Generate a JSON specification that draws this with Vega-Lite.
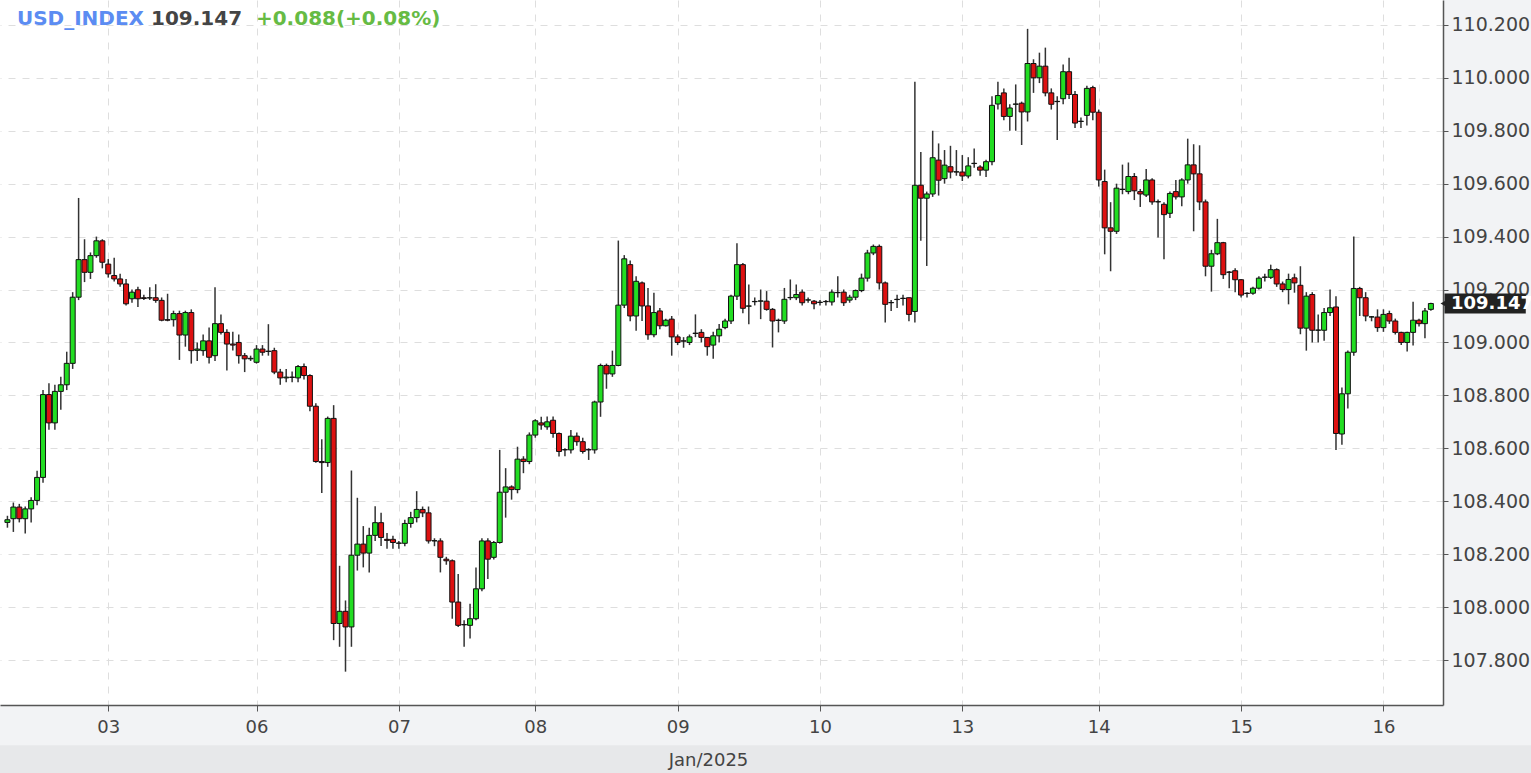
{
"$schema": "https://vega.github.io/schema/vega-lite/v6.json",
"width": 1443, "height": 705,
"autosize": {"type": "none"},
"padding": {"left": 0, "top": 0, "right": 88, "bottom": 68},
"background": "#f2f3f5",
"config": {"view": {"fill": "white", "stroke": null}, "font": "DejaVu Sans"},
"datasets": {"candles": [
{"t":1,"o":108.320,"c":108.330,"h":108.345,"l":108.300},
{"t":2,"o":108.334,"c":108.378,"h":108.395,"l":108.284},
{"t":3,"o":108.378,"c":108.334,"h":108.390,"l":108.320},
{"t":4,"o":108.334,"c":108.371,"h":108.380,"l":108.278},
{"t":5,"o":108.371,"c":108.403,"h":108.415,"l":108.320},
{"t":6,"o":108.403,"c":108.490,"h":108.515,"l":108.385},
{"t":7,"o":108.490,"c":108.803,"h":108.820,"l":108.470},
{"t":8,"o":108.803,"c":108.696,"h":108.846,"l":108.670},
{"t":9,"o":108.696,"c":108.815,"h":108.840,"l":108.670},
{"t":10,"o":108.815,"c":108.840,"h":108.870,"l":108.746},
{"t":11,"o":108.840,"c":108.921,"h":108.965,"l":108.820},
{"t":12,"o":108.921,"c":109.171,"h":109.190,"l":108.900},
{"t":13,"o":109.171,"c":109.313,"h":109.546,"l":109.160},
{"t":14,"o":109.313,"c":109.265,"h":109.390,"l":109.228},
{"t":15,"o":109.265,"c":109.328,"h":109.340,"l":109.240},
{"t":16,"o":109.328,"c":109.384,"h":109.400,"l":109.320},
{"t":17,"o":109.384,"c":109.303,"h":109.390,"l":109.280},
{"t":18,"o":109.296,"c":109.259,"h":109.315,"l":109.245},
{"t":19,"o":109.253,"c":109.240,"h":109.320,"l":109.230},
{"t":20,"o":109.240,"c":109.221,"h":109.260,"l":109.210},
{"t":21,"o":109.221,"c":109.146,"h":109.240,"l":109.140},
{"t":22,"o":109.165,"c":109.190,"h":109.200,"l":109.150},
{"t":23,"o":109.199,"c":109.165,"h":109.210,"l":109.134},
{"t":24,"o":109.169,"c":109.166,"h":109.180,"l":109.160},
{"t":25,"o":109.168,"c":109.169,"h":109.209,"l":109.160},
{"t":26,"o":109.169,"c":109.159,"h":109.220,"l":109.150},
{"t":27,"o":109.159,"c":109.084,"h":109.170,"l":109.080},
{"t":28,"o":109.086,"c":109.084,"h":109.184,"l":109.080},
{"t":29,"o":109.086,"c":109.109,"h":109.120,"l":109.060},
{"t":30,"o":109.109,"c":109.028,"h":109.120,"l":108.934},
{"t":31,"o":109.028,"c":109.113,"h":109.120,"l":108.984},
{"t":32,"o":109.113,"c":108.969,"h":109.125,"l":108.920},
{"t":33,"o":108.970,"c":108.975,"h":109.000,"l":108.930},
{"t":34,"o":108.969,"c":109.006,"h":109.030,"l":108.950},
{"t":35,"o":109.006,"c":108.944,"h":109.056,"l":108.920},
{"t":36,"o":108.950,"c":109.071,"h":109.209,"l":108.930},
{"t":37,"o":109.071,"c":109.038,"h":109.106,"l":109.030},
{"t":38,"o":109.038,"c":108.994,"h":109.050,"l":108.894},
{"t":39,"o":108.994,"c":108.990,"h":109.040,"l":108.970},
{"t":40,"o":109.000,"c":108.950,"h":109.030,"l":108.920},
{"t":41,"o":108.950,"c":108.938,"h":108.960,"l":108.888},
{"t":42,"o":108.938,"c":108.940,"h":108.950,"l":108.930},
{"t":43,"o":108.925,"c":108.975,"h":108.990,"l":108.920},
{"t":44,"o":108.975,"c":108.963,"h":108.990,"l":108.950},
{"t":45,"o":108.966,"c":108.967,"h":109.069,"l":108.950},
{"t":46,"o":108.969,"c":108.888,"h":108.980,"l":108.880},
{"t":47,"o":108.888,"c":108.866,"h":108.900,"l":108.840},
{"t":48,"o":108.866,"c":108.869,"h":108.900,"l":108.850},
{"t":49,"o":108.869,"c":108.868,"h":108.890,"l":108.850},
{"t":50,"o":108.866,"c":108.909,"h":108.915,"l":108.850},
{"t":51,"o":108.909,"c":108.875,"h":108.920,"l":108.860},
{"t":52,"o":108.875,"c":108.759,"h":108.880,"l":108.740},
{"t":53,"o":108.759,"c":108.550,"h":108.770,"l":108.545},
{"t":54,"o":108.550,"c":108.546,"h":108.634,"l":108.431},
{"t":55,"o":108.546,"c":108.713,"h":108.720,"l":108.530},
{"t":56,"o":108.713,"c":107.938,"h":108.763,"l":107.875},
{"t":57,"o":107.938,"c":107.984,"h":108.156,"l":107.850},
{"t":58,"o":107.984,"c":107.925,"h":108.025,"l":107.756},
{"t":59,"o":107.925,"c":108.196,"h":108.516,"l":107.850},
{"t":60,"o":108.196,"c":108.238,"h":108.413,"l":108.138},
{"t":61,"o":108.238,"c":108.204,"h":108.306,"l":108.150},
{"t":62,"o":108.204,"c":108.271,"h":108.300,"l":108.131},
{"t":63,"o":108.271,"c":108.319,"h":108.381,"l":108.250},
{"t":64,"o":108.319,"c":108.263,"h":108.356,"l":108.231},
{"t":65,"o":108.256,"c":108.252,"h":108.280,"l":108.220},
{"t":66,"o":108.256,"c":108.244,"h":108.270,"l":108.220},
{"t":67,"o":108.241,"c":108.242,"h":108.250,"l":108.220},
{"t":68,"o":108.241,"c":108.316,"h":108.330,"l":108.230},
{"t":69,"o":108.316,"c":108.338,"h":108.360,"l":108.300},
{"t":70,"o":108.338,"c":108.369,"h":108.438,"l":108.320},
{"t":71,"o":108.369,"c":108.356,"h":108.380,"l":108.340},
{"t":72,"o":108.356,"c":108.250,"h":108.380,"l":108.240},
{"t":73,"o":108.250,"c":108.251,"h":108.260,"l":108.230},
{"t":74,"o":108.250,"c":108.188,"h":108.260,"l":108.131},
{"t":75,"o":108.181,"c":108.175,"h":108.190,"l":108.160},
{"t":76,"o":108.175,"c":108.019,"h":108.180,"l":107.956},
{"t":77,"o":108.019,"c":107.931,"h":108.125,"l":107.925},
{"t":78,"o":107.934,"c":107.933,"h":107.950,"l":107.850},
{"t":79,"o":107.931,"c":107.956,"h":108.013,"l":107.881},
{"t":80,"o":107.956,"c":108.069,"h":108.150,"l":107.950},
{"t":81,"o":108.069,"c":108.250,"h":108.260,"l":108.060},
{"t":82,"o":108.250,"c":108.181,"h":108.260,"l":108.106},
{"t":83,"o":108.188,"c":108.244,"h":108.250,"l":108.180},
{"t":84,"o":108.244,"c":108.434,"h":108.594,"l":108.240},
{"t":85,"o":108.434,"c":108.454,"h":108.525,"l":108.338},
{"t":86,"o":108.454,"c":108.444,"h":108.460,"l":108.406},
{"t":87,"o":108.444,"c":108.559,"h":108.606,"l":108.430},
{"t":88,"o":108.559,"c":108.550,"h":108.570,"l":108.506},
{"t":89,"o":108.550,"c":108.650,"h":108.660,"l":108.540},
{"t":90,"o":108.650,"c":108.704,"h":108.710,"l":108.640},
{"t":91,"o":108.696,"c":108.688,"h":108.719,"l":108.670},
{"t":92,"o":108.681,"c":108.700,"h":108.720,"l":108.670},
{"t":93,"o":108.706,"c":108.656,"h":108.720,"l":108.640},
{"t":94,"o":108.656,"c":108.588,"h":108.660,"l":108.569},
{"t":95,"o":108.594,"c":108.595,"h":108.600,"l":108.570},
{"t":96,"o":108.594,"c":108.646,"h":108.669,"l":108.580},
{"t":97,"o":108.646,"c":108.625,"h":108.660,"l":108.610},
{"t":98,"o":108.625,"c":108.588,"h":108.640,"l":108.580},
{"t":99,"o":108.594,"c":108.595,"h":108.600,"l":108.556},
{"t":100,"o":108.594,"c":108.775,"h":108.780,"l":108.580},
{"t":101,"o":108.775,"c":108.913,"h":108.920,"l":108.719},
{"t":102,"o":108.913,"c":108.881,"h":108.920,"l":108.825},
{"t":103,"o":108.881,"c":108.913,"h":108.969,"l":108.870},
{"t":104,"o":108.913,"c":109.141,"h":109.385,"l":108.910},
{"t":105,"o":109.141,"c":109.316,"h":109.330,"l":109.130},
{"t":106,"o":109.294,"c":109.100,"h":109.310,"l":109.080},
{"t":107,"o":109.100,"c":109.231,"h":109.250,"l":109.044},
{"t":108,"o":109.225,"c":109.138,"h":109.230,"l":109.081},
{"t":109,"o":109.138,"c":109.029,"h":109.206,"l":109.010},
{"t":110,"o":109.029,"c":109.113,"h":109.188,"l":109.020},
{"t":111,"o":109.119,"c":109.063,"h":109.130,"l":109.050},
{"t":112,"o":109.063,"c":109.084,"h":109.090,"l":109.060},
{"t":113,"o":109.088,"c":109.021,"h":109.100,"l":108.950},
{"t":114,"o":109.021,"c":109.000,"h":109.030,"l":108.990},
{"t":115,"o":109.006,"c":109.005,"h":109.020,"l":108.980},
{"t":116,"o":109.000,"c":109.021,"h":109.030,"l":108.990},
{"t":117,"o":109.034,"c":109.035,"h":109.106,"l":109.020},
{"t":118,"o":109.038,"c":109.019,"h":109.050,"l":109.000},
{"t":119,"o":109.019,"c":108.984,"h":109.020,"l":108.950},
{"t":120,"o":108.990,"c":109.025,"h":109.040,"l":108.938},
{"t":121,"o":109.025,"c":109.050,"h":109.070,"l":109.000},
{"t":122,"o":109.056,"c":109.081,"h":109.090,"l":109.050},
{"t":123,"o":109.081,"c":109.175,"h":109.180,"l":109.070},
{"t":124,"o":109.175,"c":109.294,"h":109.375,"l":109.160},
{"t":125,"o":109.294,"c":109.129,"h":109.300,"l":109.110},
{"t":126,"o":109.137,"c":109.138,"h":109.219,"l":109.069},
{"t":127,"o":109.154,"c":109.155,"h":109.170,"l":109.140},
{"t":128,"o":109.156,"c":109.157,"h":109.200,"l":109.088},
{"t":129,"o":109.156,"c":109.125,"h":109.194,"l":109.120},
{"t":130,"o":109.125,"c":109.081,"h":109.130,"l":108.981},
{"t":131,"o":109.084,"c":109.083,"h":109.090,"l":109.038},
{"t":132,"o":109.081,"c":109.163,"h":109.206,"l":109.070},
{"t":133,"o":109.169,"c":109.170,"h":109.238,"l":109.160},
{"t":134,"o":109.169,"c":109.181,"h":109.219,"l":109.160},
{"t":135,"o":109.190,"c":109.150,"h":109.200,"l":109.140},
{"t":136,"o":109.160,"c":109.161,"h":109.170,"l":109.150},
{"t":137,"o":109.156,"c":109.146,"h":109.160,"l":109.125},
{"t":138,"o":109.151,"c":109.152,"h":109.160,"l":109.140},
{"t":139,"o":109.155,"c":109.154,"h":109.160,"l":109.140},
{"t":140,"o":109.153,"c":109.190,"h":109.200,"l":109.140},
{"t":141,"o":109.188,"c":109.189,"h":109.250,"l":109.170},
{"t":142,"o":109.190,"c":109.150,"h":109.200,"l":109.138},
{"t":143,"o":109.160,"c":109.171,"h":109.180,"l":109.150},
{"t":144,"o":109.171,"c":109.196,"h":109.200,"l":109.160},
{"t":145,"o":109.196,"c":109.243,"h":109.260,"l":109.190},
{"t":146,"o":109.243,"c":109.338,"h":109.350,"l":109.230},
{"t":147,"o":109.338,"c":109.363,"h":109.370,"l":109.330},
{"t":148,"o":109.363,"c":109.225,"h":109.370,"l":109.200},
{"t":149,"o":109.225,"c":109.144,"h":109.230,"l":109.075},
{"t":150,"o":109.150,"c":109.151,"h":109.160,"l":109.119},
{"t":151,"o":109.163,"c":109.162,"h":109.180,"l":109.130},
{"t":152,"o":109.166,"c":109.167,"h":109.180,"l":109.140},
{"t":153,"o":109.169,"c":109.106,"h":109.170,"l":109.080},
{"t":154,"o":109.117,"c":109.594,"h":109.985,"l":109.075},
{"t":155,"o":109.594,"c":109.545,"h":109.720,"l":109.384},
{"t":156,"o":109.545,"c":109.561,"h":109.570,"l":109.289},
{"t":157,"o":109.561,"c":109.698,"h":109.800,"l":109.550},
{"t":158,"o":109.689,"c":109.613,"h":109.752,"l":109.555},
{"t":159,"o":109.619,"c":109.670,"h":109.727,"l":109.600},
{"t":160,"o":109.664,"c":109.644,"h":109.743,"l":109.620},
{"t":161,"o":109.644,"c":109.645,"h":109.727,"l":109.630},
{"t":162,"o":109.644,"c":109.629,"h":109.708,"l":109.610},
{"t":163,"o":109.629,"c":109.667,"h":109.700,"l":109.620},
{"t":164,"o":109.676,"c":109.677,"h":109.733,"l":109.660},
{"t":165,"o":109.663,"c":109.651,"h":109.670,"l":109.630},
{"t":166,"o":109.651,"c":109.683,"h":109.690,"l":109.625},
{"t":167,"o":109.683,"c":109.896,"h":109.930,"l":109.670},
{"t":168,"o":109.901,"c":109.933,"h":109.985,"l":109.880},
{"t":169,"o":109.943,"c":109.854,"h":109.960,"l":109.840},
{"t":170,"o":109.854,"c":109.886,"h":109.900,"l":109.800},
{"t":171,"o":109.900,"c":109.901,"h":109.975,"l":109.800},
{"t":172,"o":109.904,"c":109.871,"h":109.910,"l":109.746},
{"t":173,"o":109.871,"c":110.054,"h":110.185,"l":109.835},
{"t":174,"o":110.054,"c":110.000,"h":110.070,"l":109.943},
{"t":175,"o":110.000,"c":110.044,"h":110.095,"l":109.980},
{"t":176,"o":110.044,"c":109.943,"h":110.114,"l":109.930},
{"t":177,"o":109.943,"c":109.900,"h":109.960,"l":109.880},
{"t":178,"o":109.910,"c":109.911,"h":109.930,"l":109.765},
{"t":179,"o":109.921,"c":110.023,"h":110.050,"l":109.900},
{"t":180,"o":110.023,"c":109.937,"h":110.076,"l":109.920},
{"t":181,"o":109.937,"c":109.829,"h":109.950,"l":109.810},
{"t":182,"o":109.835,"c":109.836,"h":109.850,"l":109.810},
{"t":183,"o":109.858,"c":109.960,"h":109.970,"l":109.820},
{"t":184,"o":109.963,"c":109.870,"h":109.970,"l":109.840},
{"t":185,"o":109.870,"c":109.614,"h":109.880,"l":109.589},
{"t":186,"o":109.608,"c":109.433,"h":109.653,"l":109.333},
{"t":187,"o":109.433,"c":109.420,"h":109.530,"l":109.269},
{"t":188,"o":109.420,"c":109.583,"h":109.600,"l":109.410},
{"t":189,"o":109.578,"c":109.579,"h":109.672,"l":109.560},
{"t":190,"o":109.570,"c":109.627,"h":109.680,"l":109.560},
{"t":191,"o":109.627,"c":109.573,"h":109.640,"l":109.538},
{"t":192,"o":109.570,"c":109.561,"h":109.580,"l":109.512},
{"t":193,"o":109.557,"c":109.614,"h":109.655,"l":109.550},
{"t":194,"o":109.614,"c":109.531,"h":109.620,"l":109.520},
{"t":195,"o":109.531,"c":109.532,"h":109.540,"l":109.397},
{"t":196,"o":109.522,"c":109.483,"h":109.530,"l":109.314},
{"t":197,"o":109.488,"c":109.563,"h":109.570,"l":109.470},
{"t":198,"o":109.570,"c":109.550,"h":109.614,"l":109.540},
{"t":199,"o":109.550,"c":109.614,"h":109.620,"l":109.515},
{"t":200,"o":109.614,"c":109.671,"h":109.770,"l":109.600},
{"t":201,"o":109.671,"c":109.637,"h":109.749,"l":109.420},
{"t":202,"o":109.637,"c":109.531,"h":109.745,"l":109.500},
{"t":203,"o":109.531,"c":109.288,"h":109.540,"l":109.250},
{"t":204,"o":109.288,"c":109.335,"h":109.350,"l":109.192},
{"t":205,"o":109.335,"c":109.377,"h":109.467,"l":109.330},
{"t":206,"o":109.377,"c":109.256,"h":109.380,"l":109.240},
{"t":207,"o":109.266,"c":109.265,"h":109.270,"l":109.205},
{"t":208,"o":109.271,"c":109.237,"h":109.280,"l":109.190},
{"t":209,"o":109.237,"c":109.179,"h":109.240,"l":109.170},
{"t":210,"o":109.186,"c":109.185,"h":109.190,"l":109.170},
{"t":211,"o":109.186,"c":109.205,"h":109.210,"l":109.180},
{"t":212,"o":109.205,"c":109.243,"h":109.250,"l":109.200},
{"t":213,"o":109.246,"c":109.247,"h":109.260,"l":109.230},
{"t":214,"o":109.246,"c":109.275,"h":109.294,"l":109.240},
{"t":215,"o":109.275,"c":109.221,"h":109.280,"l":109.210},
{"t":216,"o":109.221,"c":109.200,"h":109.230,"l":109.190},
{"t":217,"o":109.200,"c":109.238,"h":109.260,"l":109.144},
{"t":218,"o":109.244,"c":109.225,"h":109.260,"l":109.188},
{"t":219,"o":109.216,"c":109.054,"h":109.288,"l":109.031},
{"t":220,"o":109.054,"c":109.175,"h":109.190,"l":108.969},
{"t":221,"o":109.181,"c":109.046,"h":109.190,"l":109.000},
{"t":222,"o":109.046,"c":109.047,"h":109.106,"l":109.000},
{"t":223,"o":109.046,"c":109.113,"h":109.130,"l":109.006},
{"t":224,"o":109.113,"c":109.131,"h":109.200,"l":109.100},
{"t":225,"o":109.134,"c":108.656,"h":109.175,"l":108.594},
{"t":226,"o":108.654,"c":108.806,"h":108.830,"l":108.613},
{"t":227,"o":108.806,"c":108.963,"h":108.970,"l":108.750},
{"t":228,"o":108.963,"c":109.204,"h":109.400,"l":108.950},
{"t":229,"o":109.204,"c":109.169,"h":109.210,"l":109.100},
{"t":230,"o":109.169,"c":109.100,"h":109.190,"l":109.080},
{"t":231,"o":109.096,"c":109.097,"h":109.100,"l":109.080},
{"t":232,"o":109.096,"c":109.056,"h":109.125,"l":109.040},
{"t":233,"o":109.056,"c":109.106,"h":109.125,"l":109.040},
{"t":234,"o":109.109,"c":109.081,"h":109.120,"l":109.070},
{"t":235,"o":109.081,"c":109.038,"h":109.090,"l":109.030},
{"t":236,"o":109.038,"c":109.000,"h":109.040,"l":108.990},
{"t":237,"o":109.000,"c":109.038,"h":109.040,"l":108.966},
{"t":238,"o":109.038,"c":109.084,"h":109.154,"l":108.988},
{"t":239,"o":109.084,"c":109.071,"h":109.090,"l":109.060},
{"t":240,"o":109.071,"c":109.119,"h":109.130,"l":109.016},
{"t":241,"o":109.125,"c":109.147,"h":109.150,"l":109.120}
]},
"layer": [
{
"data": {"values": [{}]},
"mark": {"type": "rect", "clip": false, "color": "#e7e8ea"},
"encoding": {
"x": {"datum": -3, "type": "quantitative", "scale": {"domain": [0.59, 242.2], "nice": false, "zero": false}},
"x2": {"datum": 258},
"y": {"datum": 107.478, "type": "quantitative", "scale": {"domain": [107.63, 110.294], "nice": false, "zero": false}},
"y2": {"datum": 107.34}
}
},
{
"data": {"values": [{}]},
"mark": {"type": "text", "text": "Jan/2025", "align": "center", "baseline": "middle", "fontSize": 18, "color": "#444444", "clip": false},
"encoding": {"x": {"datum": 119.2, "type": "quantitative"}, "y": {"datum": 107.418, "type": "quantitative"}}
},
{
"data": {"name": "candles"},
"mark": {"type": "rule", "color": "#333333", "strokeWidth": 1.5},
"encoding": {
"x": {"field": "t", "type": "quantitative",
"scale": {"domain": [0.59, 242.2], "nice": false, "zero": false},
"axis": {"values": [18,43,67,90,114,138,162,185,209,233],
"labelExpr": "({'18':'03','43':'06','67':'07','90':'08','114':'09','138':'10','162':'13','185':'14','209':'15','233':'16'})[datum.value]",
"title": null,
"grid": true, "gridColor": "#dedede", "gridDash": [7, 7],
"domainColor": "#555555", "domainWidth": 1.5, "tickColor": "#555555", "tickSize": 6,
"labelFontSize": 18, "labelColor": "#444444", "labelPadding": 7, "labelFlush": false, "labelOverlap": false}},
"y": {"field": "l", "type": "quantitative",
"scale": {"domain": [107.63, 110.294], "nice": false, "zero": false},
"axis": {"orient": "right", "values": [107.8,108.0,108.2,108.4,108.6,108.8,109.0,109.2,109.4,109.6,109.8,110.0,110.2],
"format": ".3f", "title": null,
"grid": true, "gridColor": "#dedede", "gridDash": [7, 7],
"domainColor": "#555555", "domainWidth": 1.5, "tickColor": "#555555", "tickSize": 5,
"labelFontSize": 19, "labelColor": "#444444", "labelPadding": 3, "labelFlush": false, "labelOverlap": false, "labelBound": false}},
"y2": {"field": "h"}
}
},
{
"data": {"name": "candles"},
"mark": {"type": "bar", "width": 5, "stroke": "#111111", "strokeWidth": 1},
"encoding": {
"x": {"field": "t", "type": "quantitative"},
"y": {"field": "o", "type": "quantitative"},
"y2": {"field": "c"},
"fill": {"condition": {"test": "datum.c >= datum.o", "value": "#22dd22"}, "value": "#dd1111"}
}
},
{
"data": {"values": [{}]},
"mark": {"type": "text", "text": "USD_INDEX", "align": "left", "baseline": "middle", "fontSize": 20, "fontWeight": "bold", "color": "#5b8cf2"},
"encoding": {"x": {"datum": 2.6, "type": "quantitative"}, "y": {"datum": 110.222, "type": "quantitative"}}
},
{
"data": {"values": [{}]},
"mark": {"type": "text", "text": "109.147", "align": "left", "baseline": "middle", "fontSize": 20, "fontWeight": "bold", "color": "#444444"},
"encoding": {"x": {"datum": 25.2, "type": "quantitative"}, "y": {"datum": 110.222, "type": "quantitative"}}
},
{
"data": {"values": [{}]},
"mark": {"type": "text", "text": "+0.088(+0.08%)", "align": "left", "baseline": "middle", "fontSize": 20, "fontWeight": "bold", "color": "#66bb44"},
"encoding": {"x": {"datum": 42.9, "type": "quantitative"}, "y": {"datum": 110.222, "type": "quantitative"}}
},
{
"data": {"values": [{}]},
"mark": {"type": "rect", "clip": false, "color": "#222222"},
"encoding": {"x": {"datum": 243.3, "type": "quantitative"}, "x2": {"datum": 257}, "y": {"datum": 109.185, "type": "quantitative"}, "y2": {"datum": 109.109}}
},
{
"data": {"values": [{}]},
"mark": {"type": "point", "shape": "triangle-left", "filled": true, "size": 160, "color": "#222222", "opacity": 1, "clip": false},
"encoding": {"x": {"datum": 243.55, "type": "quantitative"}, "y": {"datum": 109.147, "type": "quantitative"}}
},
{
"data": {"values": [{}]},
"mark": {"type": "text", "text": "109.147", "align": "left", "baseline": "middle", "fontSize": 18, "fontWeight": "bold", "color": "white", "clip": false},
"encoding": {"x": {"datum": 244.4, "type": "quantitative"}, "y": {"datum": 109.147, "type": "quantitative"}}
}
]
}
